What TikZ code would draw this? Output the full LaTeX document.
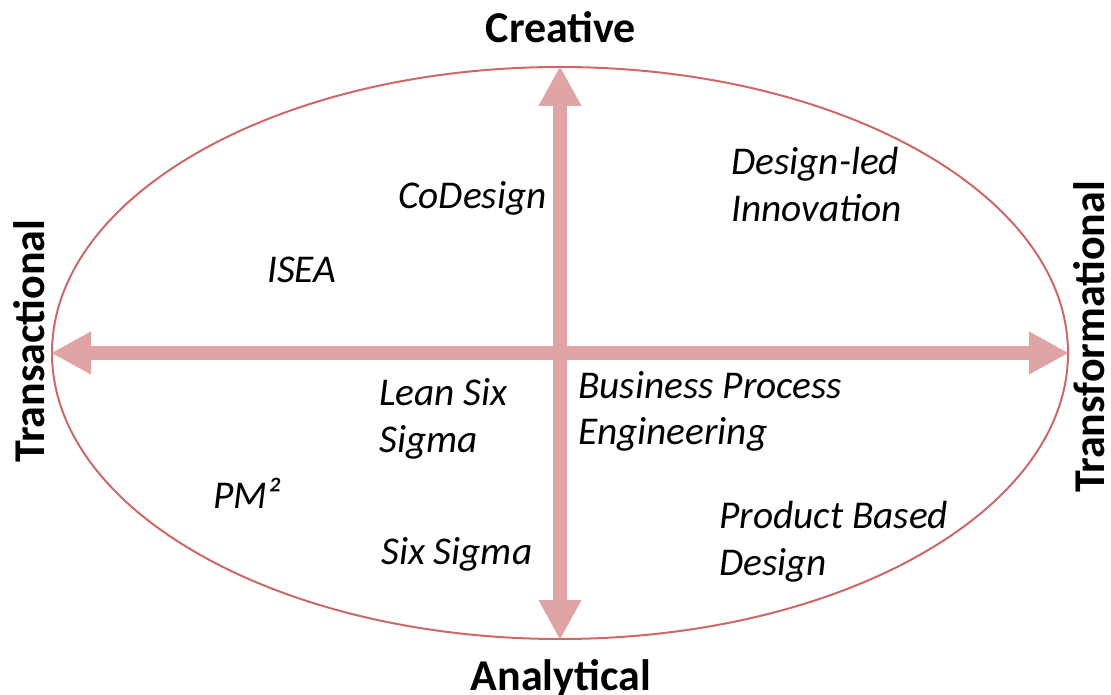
\documentclass[tikz,border=0pt]{standalone}
\usepackage{fontspec}
\setmainfont{Carlito}
\usetikzlibrary{arrows.meta,shapes.geometric}
\definecolor{axispink}{RGB}{224,164,164}
\definecolor{rimred}{RGB}{206,104,104}
\begin{document}
\begin{tikzpicture}[x=0.75pt,y=-0.75pt,
        method/.style={anchor=base west,inner sep=0,align=left,font=\fontsize{29.5}{35.25}\selectfont\itshape},
        pole/.style={inner sep=0,font=\fontsize{33}{38}\selectfont\bfseries},
        axis/.style={draw=axispink,line width=10.5pt,{Triangle[width=30pt,length=30pt]}-{Triangle[width=30pt,length=30pt]}}]
        \useasboundingbox (0,0) rectangle (1111,695);
        \node[ellipse,draw=rimred,line width=1.5pt,inner sep=0,minimum width=762pt,minimum height=429pt] (frame) at (560,353) {};
        \draw[axis] (frame.north) -- (frame.south);
        \draw[axis] (frame.west) -- (frame.east);
        \node[pole,anchor=base] (creative) at (561,43) {Creative};
        \node[pole,anchor=base] (analytical) at (561,690) {Analytical};
        \node[pole,anchor=base,rotate=90] (transactional) at (44,341) {Transactional};
        \node[pole,anchor=base,rotate=90] (transformational) at (1104,337) {Transformational};
        % multi-line nodes sit on the baseline of their last line
        \node[method] (codesign) at (398,209) {CoDesign};
        \node[method] (designled) at (731,222) {Design-led\\Innovation};
        \node[method] (isea) at (267,283) {ISEA};
        \node[method] (leansix) at (379,452) {Lean Six\\Sigma};
        \node[method] (bpe) at (578,445) {Business Process\\Engineering};
        \node[method] (pm) at (213,508) {PM²};
        \node[method] (sixsigma) at (381,564) {Six Sigma};
        \node[method] (pbd) at (719,575) {Product Based\\Design};
\end{tikzpicture}
\end{document}
